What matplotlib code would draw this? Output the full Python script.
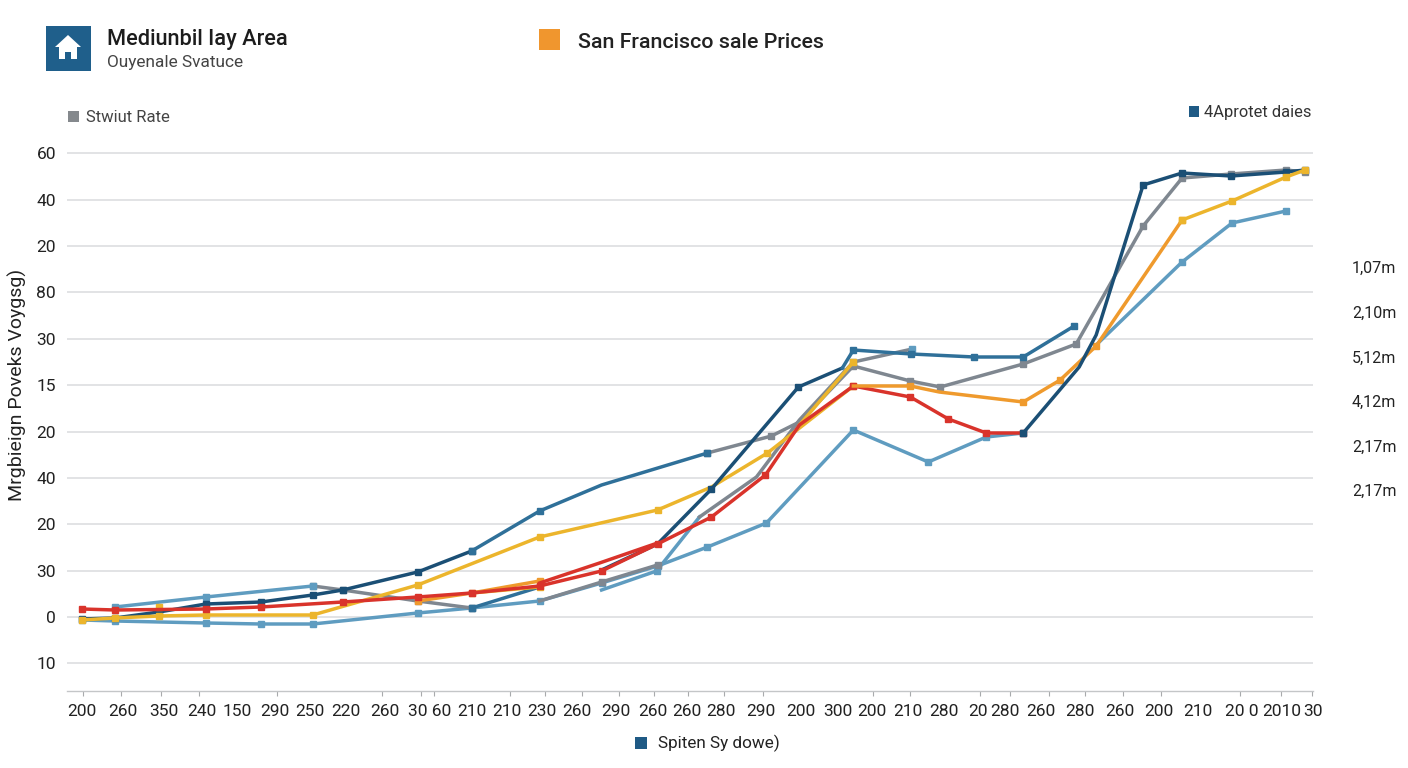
import matplotlib
matplotlib.use("Agg")
import matplotlib.pyplot as plt
from matplotlib.patches import Rectangle, Polygon

plt.rcParams['font.family'] = ['Roboto', 'DejaVu Sans']

W, H = 1408, 768

# Y axis: tick heights and labels (labels as printed, not monotonic)
y_ticks = [-46.36, 0, 46.36, 92.72, 139.08, 185.44, 231.8, 278.16, 324.52, 370.88, 417.24, 463.6]
y_labels = ['10', '0', '30', '20', '40', '20', '15', '30', '80', '20', '40', '60']

# X axis: label positions and printed labels, and tick-mark positions
x_label_pos = [82, 123, 164, 202, 237, 275, 310, 346, 385, 430, 472, 507, 542, 577, 616, 653, 687,
               721, 761, 801, 838, 873, 909, 945, 979, 1006, 1042, 1081, 1121, 1160, 1199, 1243, 1283, 1314]
x_labels = ['200', '260', '350', '240', '150', '290', '250', '220', '260', '30 60', '210', '210', '230',
            '260', '290', '260', '260', '280', '290', '200', '300', '200', '210', '280', '20', '280',
            '260', '280', '260', '200', '210', '20 0', '2010', '30']
x_tick_pos = [83, 121, 161, 199, 237, 277, 310, 346, 382, 421, 434, 472, 510, 545, 582, 619, 654, 688,
              725, 764, 801, 838, 874, 911, 945, 981, 1011, 1050, 1086, 1124, 1162, 1199, 1241, 1282, 1313]

right_labels = ['1,07m', '2,10m', '5,12m', '4,12m', '2,17m', '2,17m']

NAVY, STEEL, LIGHT, GRAY = '#1b4f75', '#2f7099', '#5f9cc0', '#7f8790'
RED, YELLOW, ORANGE = '#d9332b', '#ecb52c', '#ef9a2d'

low_blue_x = [82, 115, 206, 261, 313, 418, 472, 540, 602, 658, 708, 767, 854, 929, 987, 1024]
low_blue_y = [-3, -4, -6, -7, -7, 4, 9, 16, 34, 51, 70, 94, 187, 155, 180, 184]
high_blue_x = [1097, 1183, 1233, 1287]
high_blue_y = [272, 355, 394, 406]
top_blue_x = [115, 206, 313]
top_blue_y = [10, 20, 31]
branch_blue_x = [602, 657, 700]
branch_blue_y = [27, 46, 100]
corner_blue_x = [913]
corner_blue_y = [268]

gray_a_x = [313, 343, 418, 472]
gray_a_y = [31, 27, 16, 9]
gray_b_x = [540, 602, 658]
gray_b_y = [16, 35, 52]
gray_c_x = [700, 757, 800, 854, 913]
gray_c_y = [100, 140, 197, 255, 268]
gray_d_x = [708, 772, 800, 854, 911, 941, 1024, 1077, 1144, 1183, 1232, 1287, 1306]
gray_d_y = [164, 181, 195, 251, 236, 230, 253, 273, 391, 439, 443, 447, 445]

navy_a_x = [82, 115, 159, 206, 261, 313, 343, 418, 472]
navy_a_y = [-2, -1, 5, 13, 15, 22, 27, 45, 66]
steel_a_x = [472, 540, 602, 708]
steel_a_y = [66, 106, 132, 164]
steel_b_x = [472, 540]
steel_b_y = [9, 30]
navy_b_x = [602, 658, 712, 799, 843]
navy_b_y = [47, 73, 128, 230, 249]
steel_c_x = [843, 854, 912, 975, 1024, 1075]
steel_c_y = [249, 267, 263, 260, 260, 291]
navy_c_x = [1024, 1080, 1097, 1144, 1183, 1232, 1287, 1306]
navy_c_y = [184, 250, 282, 432, 444, 441, 445, 447]

red_a_x = [82, 115, 206, 261, 343, 418, 472, 540, 602, 658, 712, 766, 800, 854, 911, 949, 987, 1024]
red_a_y = [8, 7, 8, 10, 15, 20, 24, 31, 46, 73, 100, 142, 192, 231, 220, 198, 184, 184]
red_b_x = [540, 600, 658]
red_b_y = [34, 54, 74]

yellow_a_x = [82, 115, 159, 206, 313, 418, 540, 658, 712, 768, 854]
yellow_a_y = [-3, -1, 1, 2, 2, 32, 80, 107, 130, 164, 231]
yellow_b_x = [1183, 1233, 1287, 1306]
yellow_b_y = [397, 416, 440, 447]
yellow_c_x = [800, 854]
yellow_c_y = [192, 255]
yellow_d_x = [472, 540]
yellow_d_y = [24, 30]
yellow_e_x = [159]
yellow_e_y = [10]
orange_a_x = [854, 911, 940, 1024, 1061, 1097, 1183]
orange_a_y = [231, 231, 225, 215, 237, 271, 397]
orange_b_x = [418, 472, 540]
orange_b_y = [16, 24, 36]

# (x, y, colour, indices that carry a marker; None means all)
series = [
    (low_blue_x, low_blue_y, LIGHT, None), (high_blue_x, high_blue_y, LIGHT, [1, 2, 3]),
    (branch_blue_x, branch_blue_y, LIGHT, [1]),
    (gray_a_x, gray_a_y, GRAY, None), (top_blue_x, top_blue_y, LIGHT, None),
    (gray_b_x, gray_b_y, GRAY, [1, 2]),
    (gray_c_x, gray_c_y, GRAY, [3]), (gray_d_x, gray_d_y, GRAY, [0, 1, 3, 4, 5, 6, 7, 8, 9, 10, 11, 12]),
    (corner_blue_x, corner_blue_y, LIGHT, None),
    (navy_a_x, navy_a_y, NAVY, None), (steel_a_x, steel_a_y, STEEL, [0, 1, 3]), (steel_b_x, steel_b_y, STEEL, [0]),
    (orange_b_x, orange_b_y, ORANGE, None), (yellow_d_x, yellow_d_y, YELLOW, [1]),
    (yellow_a_x, yellow_a_y, YELLOW, [0, 1, 2, 3, 4, 5, 6, 7, 9, 10]),
    (navy_b_x, navy_b_y, NAVY, [2, 3]), (steel_c_x, steel_c_y, STEEL, [1, 2, 3, 4, 5]),
    (yellow_c_x, yellow_c_y, YELLOW, [1]), (yellow_e_x, yellow_e_y, YELLOW, None),
    (red_b_x, red_b_y, RED, []), (red_a_x, red_a_y, RED, [0, 1, 2, 3, 4, 5, 6, 7, 8, 9, 10, 11, 13, 14, 15, 16, 17]),
    (orange_a_x, orange_a_y, ORANGE, [1, 3, 4, 5, 6]), (navy_c_x, navy_c_y, NAVY, [0, 3, 4, 5, 6, 7]),
    (yellow_b_x, yellow_b_y, YELLOW, None),
]

fig = plt.figure(figsize=(W / 100, H / 100), dpi=100, facecolor='white')
ax = fig.add_axes([67 / W, 1 - 691 / H, (1313 - 67) / W, (691 - 140) / H])
ax.set_xlim(67, 1313)
ax.set_ylim(-74, 477)

for s in ['top', 'right', 'left']:
    ax.spines[s].set_visible(False)
ax.spines['bottom'].set_color('#c4c6c8')
ax.spines['bottom'].set_linewidth(1)

ax.set_yticks(y_ticks, y_labels, fontsize=12.5, color='#222222')
ax.tick_params(axis='y', length=0, pad=8)
ax.grid(axis='y', color='#dfe1e3', linewidth=1.3)
ax.set_axisbelow(True)

ax.set_xticks(x_label_pos, x_labels, fontsize=12.5, color='#222222')
ax.tick_params(axis='x', which='major', length=0, pad=9)
ax.set_xticks(x_tick_pos, minor=True)
ax.tick_params(axis='x', which='minor', length=3.5, width=0.8, color='#a8aaac')

for xs, ys, c, marks in series:
    ax.plot(xs, ys, color=c, linewidth=2.5, marker='s', markersize=5, clip_on=False,
            solid_joinstyle='round', markevery=marks)

ax.set_ylabel('Mrgbieign Poveks Voygsg)', fontsize=14, color='#222222')
ax.yaxis.set_label_coords((27 - 67) / (1313 - 67), (691 - 385) / (691 - 140))


def px(x, y):
    return x / W, 1 - y / H


def square(x0, y0, x1, y1, color):
    fig.add_artist(Rectangle(px(x0, y1), (x1 - x0) / W, (y1 - y0) / H, transform=fig.transFigure,
                             facecolor=color, edgecolor='none'))


square(46, 26, 91, 71, '#1f5f8b')
house = [(68, 35), (81, 47), (77, 47), (77, 59), (71, 59), (71, 52), (65, 52), (65, 59), (59, 59),
         (59, 47), (55, 47)]
fig.add_artist(Polygon([px(*p) for p in house], closed=True, transform=fig.transFigure,
                       facecolor='white', edgecolor='none'))
square(539, 29, 560, 50, '#f0962e')
square(68, 111, 79, 122, '#85898d')
square(1189, 106, 1199, 117, '#1f5a85')
square(635, 737, 647, 749, '#1f5a85')

texts = [
    (107, 40, 'Mediunbil Iay Area', 15.7, 'medium', '#1c1c1c'),
    (107, 62, 'Ouyenale Svatuce', 12.4, 'normal', '#444444'),
    (578, 42, 'San Francisco sale Prices', 15.4, 'medium', '#222222'),
    (86, 117, 'Stwiut Rate', 12, 'normal', '#444444'),
    (1204, 112, '4Aprotet daies', 11.9, 'normal', '#333333'),
    (658, 743, 'Spiten Sy dowe)', 12.3, 'normal', '#222222'),
]
for x, y, t, size, weight, color in texts:
    fig.text(*px(x, y), t, fontsize=size, fontweight=weight, color=color, ha='left', va='center')

for y, t in zip([268, 313, 358, 402, 447, 491], right_labels):
    fig.text(*px(1352, y), t, fontsize=11.5, color='#222222', ha='left', va='center')

fig.savefig('out.png', dpi=100, facecolor='white')
